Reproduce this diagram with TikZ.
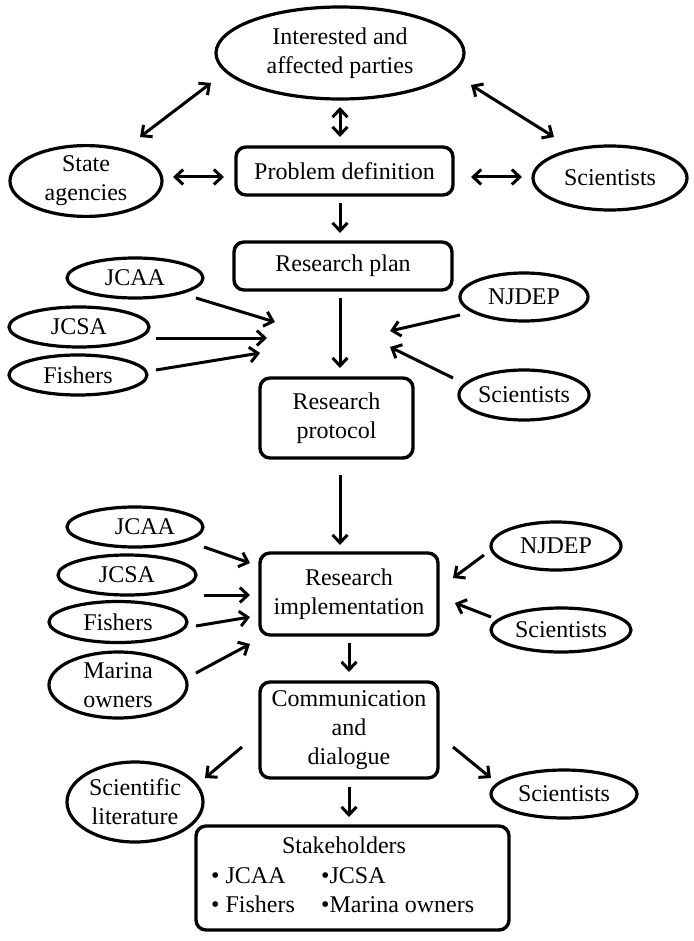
\documentclass[tikz,border=0pt]{standalone}
\usepackage{fontspec}
\setmainfont{Liberation Serif}
\usetikzlibrary{shapes.geometric,arrows.meta}
\begin{document}
\begin{tikzpicture}[x=1pt,y=-1pt,
  every node/.style={font=\fontsize{24}{29}\selectfont, align=center, inner sep=0pt},
  ell/.style={draw, ellipse, line width=3.2pt},
  rbox/.style={draw, rounded corners=10pt, line width=3.4pt},
  tip/.tip={Straight Barb[length=8pt,width=15pt,line width=3pt]},
  arr/.style={line width=3pt, -tip},
  darr/.style={line width=3pt, tip-tip}]
\useasboundingbox (0,0) rectangle (693,941);
\fill[white] (0,0) rectangle (693,941);

% nodes
\node[ell, minimum width=248pt, minimum height=92pt] (top) at (340,53) {Interested and\\affected parties};
\node[ell, minimum width=152pt, minimum height=66pt] (state) at (86,181) {State\\agencies};
\node[ell, minimum width=154pt, minimum height=64pt] (sci1) at (610,178) {Scientists};
\node[rbox, minimum width=217pt, minimum height=48pt] (prob) at (344.5,171) {Problem definition};
\node[rbox, minimum width=218pt, minimum height=48pt] (plan) at (343,266) {Research plan};
\node[ell, minimum width=136pt, minimum height=40pt] (jcaa1) at (135,278) {JCAA};
\node[ell, minimum width=140pt, minimum height=40pt] (jcsa1) at (79,327) {JCSA};
\node[ell, minimum width=138pt, minimum height=40pt] (fish1) at (78,375) {Fishers};
\node[ell, minimum width=128pt, minimum height=48pt] (njdep1) at (524,297) {NJDEP};
\node[ell, minimum width=128pt, minimum height=50pt] (sci2) at (524,395) {Scientists};
\node[rbox, minimum width=153pt, minimum height=80pt] (proto) at (336.5,418) {Research\\protocol};
\node[ell, minimum width=136pt, minimum height=40pt] (jcaa2) at (135,527) {\hspace*{20pt}JCAA};
\node[ell, minimum width=138pt, minimum height=40pt] (jcsa2) at (127,575) {JCSA};
\node[ell, minimum width=138pt, minimum height=41pt] (fish2) at (118,622) {Fishers};
\node[ell, minimum width=138pt, minimum height=66pt] (marina) at (118,685) {Marina\\owners};
\node[rbox, minimum width=178pt, minimum height=82pt] (impl) at (349,594) {Research\\implementation};
\node[ell, minimum width=130pt, minimum height=48pt] (njdep2) at (556,546) {NJDEP};
\node[ell, minimum width=140pt, minimum height=44pt] (sci3) at (561,630) {Scientists};
\node[rbox, minimum width=178pt, minimum height=96pt] (comm) at (349,730) {Communication\\and\\dialogue};
\node[ell, minimum width=136pt, minimum height=80pt] (lit) at (135,802) {Scientific\\literature};
\node[ell, minimum width=146pt, minimum height=48pt] (sci4) at (564,794) {Scientists};
\node[rbox, minimum width=313pt, minimum height=104pt] (stake) at (352.5,878) {};
\node[anchor=base] (sth) at (344,853) {Stakeholders};
\node[anchor=base west] (s1) at (211,883) {• JCAA};
\node[anchor=base west] (s2) at (321,883) {•JCSA};
\node[anchor=base west] (s3) at (211,912) {• Fishers};
\node[anchor=base west] (s4) at (321,912) {•Marina owners};

% arrow end coordinates
\coordinate (a1s) at (211,83);  \coordinate (a1e) at (140,137);
\coordinate (a2s) at (340,107); \coordinate (a2e) at (340,137);
\coordinate (a3s) at (471,85);  \coordinate (a3e) at (554,137);
\coordinate (a4s) at (173,177); \coordinate (a4e) at (224,177);
\coordinate (a5s) at (471,177); \coordinate (a5e) at (522,177);
\coordinate (a6s) at (340,203); \coordinate (a6e) at (340,233);
\coordinate (a7s) at (196,298); \coordinate (a7e) at (275,322);
\coordinate (a8s) at (156,338); \coordinate (a8e) at (267,338);
\coordinate (a9s) at (156,370); \coordinate (a9e) at (260,353);
\coordinate (a10s) at (340,298); \coordinate (a10e) at (340,368);
\coordinate (a11s) at (460,315); \coordinate (a11e) at (390,331);
\coordinate (a12s) at (453,378); \coordinate (a12e) at (390,347);
\coordinate (a13s) at (340,475); \coordinate (a13e) at (340,545);
\coordinate (a14s) at (204,547); \coordinate (a14e) at (250,563);
\coordinate (a15s) at (204,595); \coordinate (a15e) at (250,595);
\coordinate (a16s) at (196,626); \coordinate (a16e) at (250,617);
\coordinate (a17s) at (196,673); \coordinate (a17e) at (250,644);
\coordinate (a18s) at (484,555); \coordinate (a18e) at (453,578);
\coordinate (a19s) at (491,617); \coordinate (a19e) at (455,603);
\coordinate (a20s) at (349,643); \coordinate (a20e) at (349,672);
\coordinate (a21s) at (242,747); \coordinate (a21e) at (205,778);
\coordinate (a22s) at (453,747); \coordinate (a22e) at (491,778);
\coordinate (a23s) at (349,787); \coordinate (a23e) at (349,817);

% connectors
\draw[darr] (a1s) -- (a1e);
\draw[darr] (a2s) -- (a2e);
\draw[darr] (a3s) -- (a3e);
\draw[darr] (a4s) -- (a4e);
\draw[darr] (a5s) -- (a5e);
\draw[arr] (a6s) -- (a6e);
\draw[arr] (a7s) -- (a7e);
\draw[arr] (a8s) -- (a8e);
\draw[arr] (a9s) -- (a9e);
\draw[arr] (a10s) -- (a10e);
\draw[arr] (a11s) -- (a11e);
\draw[arr] (a12s) -- (a12e);
\draw[arr] (a13s) -- (a13e);
\draw[arr] (a14s) -- (a14e);
\draw[arr] (a15s) -- (a15e);
\draw[arr] (a16s) -- (a16e);
\draw[arr] (a17s) -- (a17e);
\draw[arr] (a18s) -- (a18e);
\draw[arr] (a19s) -- (a19e);
\draw[arr] (a20s) -- (a20e);
\draw[arr] (a21s) -- (a21e);
\draw[arr] (a22s) -- (a22e);
\draw[arr] (a23s) -- (a23e);
\end{tikzpicture}
\end{document}
